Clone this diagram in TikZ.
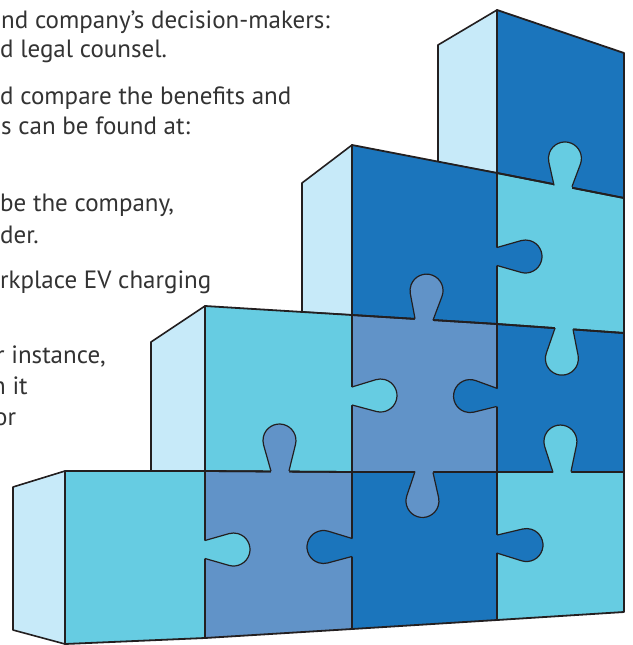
\documentclass[tikz,border=0pt]{standalone}
\usepackage{fontspec}
\setmainfont{PT Sans}
\definecolor{lightc}{HTML}{C7EAF9}
\definecolor{cyanc}{HTML}{66CCE2}
\definecolor{darkc}{HTML}{1B75BC}
\definecolor{greyc}{HTML}{6193C8}
\definecolor{linec}{HTML}{231F20}
\definecolor{textc}{HTML}{333333}
\tikzset{
  sideface/.style={fill=lightc, draw=linec, line width=1.6pt, line join=round},
  cellline/.style={draw=linec, line width=1.8pt, line join=round},
  knobline/.style={draw=linec, line width=1.2pt, line join=round},
  txt/.style={anchor=base west, inner sep=0pt, font=\fontsize{25}{30}\selectfont, text=textc}
}
\newcommand\pzknob[4]{%
  \pgfmathsetmacro\kL{veclen(#4,9)}%
  \pgfmathsetmacro\kA{180-atan(9/#4)-acos(16.5/\kL)}%
  \pgfmathsetmacro\kTx{#4+16.5*cos(\kA)}%
  \pgfmathsetmacro\kTy{16.5*sin(\kA)}%
  \begin{scope}[shift={(#2)},rotate=#3]
    \fill[#1] (-3,-9) -- (-3,9) -- (0,9) -- (\kTx,\kTy) arc[start angle=\kA, end angle=-\kA, radius=16.5] -- (0,-9) -- cycle;
    \draw[knobline] (0,9) -- (\kTx,\kTy) arc[start angle=\kA, end angle=-\kA, radius=16.5] -- (0,-9);
  \end{scope}}
\begin{document}
\begin{tikzpicture}[x=1pt,y=1pt,yscale=-1]
\clip (0,0) rectangle (632,645);
\fill[white] (0,0) rectangle (632,645);
% text
\node[txt] (t1) at (1,28) {nd company’s decision-makers:};
\node[txt] (t2) at (0,57) {d legal counsel.};
\node[txt] (t3) at (0,104) {d compare the benefits and};
\node[txt] (t4) at (1,134) {s can be found at:};
\node[txt] (t5) at (0,211) {be the company,};
\node[txt] (t6) at (0,243) {der.};
\node[txt] (t7) at (0,288) {rkplace EV charging};
\node[txt] (t8) at (-4,363) {r instance,};
\node[txt] (t9) at (-8,394) {n it};
\node[txt] (t10) at (-6,425) {or};
% side faces
\filldraw[sideface] (438,45) -- (497,10) -- (497,173) -- (438,162) -- cycle;
\filldraw[sideface] (302,183) -- (352,145) -- (352,315) -- (302,312) -- cycle;
\filldraw[sideface] (151,342) -- (205,306) -- (205,471) -- (151,471) -- cycle;
\filldraw[sideface] (13,487) -- (65,471) -- (65,644) -- (13,630) -- cycle;
% front cells
\fill[cyanc] (65,471) -- (205,471) -- (205,638) -- (65,644) -- cycle;
\fill[greyc] (205,471) -- (352,472) -- (352,629) -- (205,638) -- cycle;
\fill[cyanc] (205,306) -- (352,315) -- (352,472) -- (205,471) -- cycle;
\fill[darkc] (352,472) -- (497,472) -- (497,620) -- (352,629) -- cycle;
\fill[greyc] (352,315) -- (497,324) -- (497,472) -- (352,472) -- cycle;
\fill[darkc] (352,145) -- (497,173) -- (497,324) -- (352,315) -- cycle;
\fill[cyanc] (497,472) -- (624,472) -- (624,612) -- (497,620) -- cycle;
\fill[darkc] (497,324) -- (624,333) -- (624,472) -- (497,472) -- cycle;
\fill[cyanc] (497,173) -- (624,198) -- (624,333) -- (497,324) -- cycle;
\fill[darkc] (497,10) -- (624,53) -- (624,198) -- (497,173) -- cycle;
% cell outlines
\draw[cellline] (65,471) -- (205,471) -- (205,638) -- (65,644) -- cycle;
\draw[cellline] (205,471) -- (352,472) -- (352,629) -- (205,638) -- cycle;
\draw[cellline] (205,306) -- (352,315) -- (352,472) -- (205,471) -- cycle;
\draw[cellline] (352,472) -- (497,472) -- (497,620) -- (352,629) -- cycle;
\draw[cellline] (352,315) -- (497,324) -- (497,472) -- (352,472) -- cycle;
\draw[cellline] (352,145) -- (497,173) -- (497,324) -- (352,315) -- cycle;
\draw[cellline] (497,472) -- (624,472) -- (624,612) -- (497,620) -- cycle;
\draw[cellline] (497,324) -- (624,333) -- (624,472) -- (497,472) -- cycle;
\draw[cellline] (497,173) -- (624,198) -- (624,333) -- (497,324) -- cycle;
\draw[cellline] (497,10) -- (624,53) -- (624,198) -- (497,173) -- cycle;
% knobs
\pzknob{cyanc}{563,186}{-86}{27.6}
\pzknob{darkc}{497,256.5}{0}{28.5}
\pzknob{greyc}{424,319.5}{-85}{29}
\pzknob{greyc}{424,472}{93}{29}
\pzknob{cyanc}{352,396}{-1}{28.5}
\pzknob{darkc}{497,397.5}{183}{27}
\pzknob{cyanc}{564,328.7}{94}{30}
\pzknob{cyanc}{562,472}{-93}{30.5}
\pzknob{greyc}{280,471}{-91}{30.5}
\pzknob{cyanc}{205,549.5}{0}{28.5}
\pzknob{darkc}{352,547.5}{181}{28.5}
\pzknob{darkc}{497,544}{2}{29.5}
\end{tikzpicture}
\end{document}
